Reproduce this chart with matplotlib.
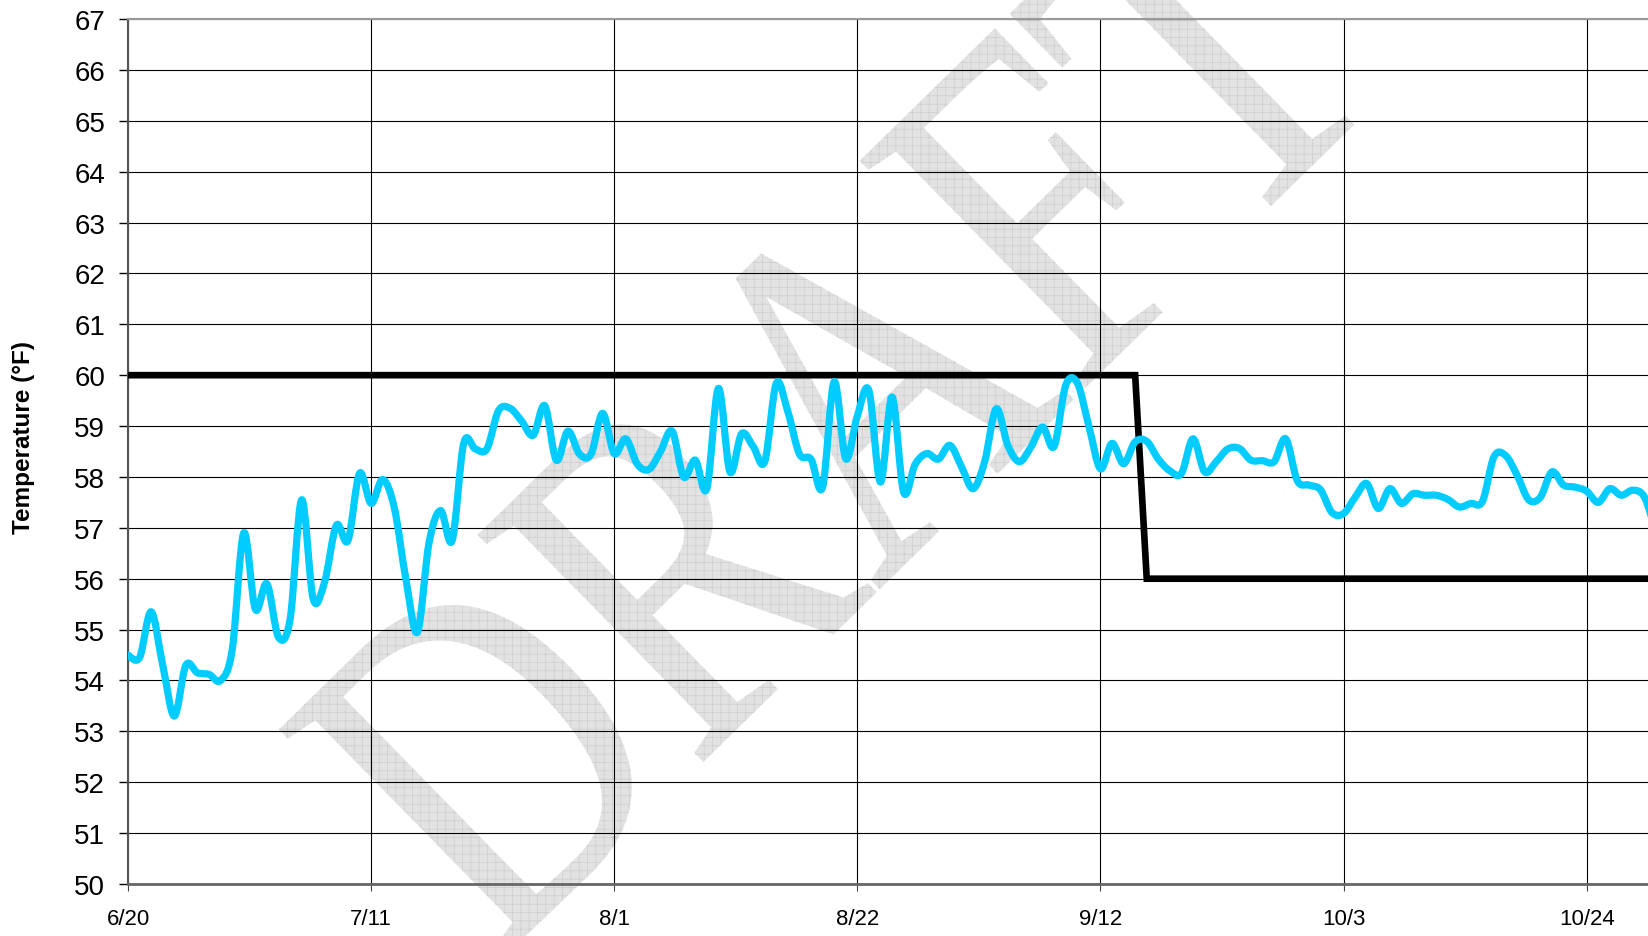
import numpy as np
import pandas as pd
import matplotlib
matplotlib.use("Agg")
import matplotlib.pyplot as plt
import matplotlib.dates as mdates
from matplotlib.path import Path
from matplotlib.patches import PathPatch
from matplotlib.textpath import TextPath
from matplotlib.font_manager import FontProperties
from matplotlib.transforms import Affine2D

plt.rcParams['font.family'] = ['Liberation Sans', 'DejaVu Sans']
plt.rcParams['hatch.linewidth'] = 0.5

# daily water temperature, starting 6/20
start_date = "2009-06-20"
temps = [
    54.5, 54.45, 55.35, 54.3, 53.3, 54.3, 54.15, 54.12, 54.0, 54.6,
    56.9, 55.4, 55.9, 54.85, 55.2, 57.55, 55.6, 55.95, 57.05, 56.75,
    58.07, 57.48, 57.95, 57.4, 56.0, 54.95, 56.7, 57.34, 56.75, 58.66,
    58.55, 58.55, 59.3, 59.35, 59.1, 58.82, 59.4, 58.33, 58.9, 58.45,
    58.45, 59.25, 58.46, 58.75, 58.25, 58.15, 58.5, 58.9, 58.0, 58.33,
    57.77, 59.74, 58.1, 58.85, 58.6, 58.3, 59.84, 59.28, 58.45, 58.35,
    57.8, 59.87, 58.36, 59.2, 59.7, 57.9, 59.57, 57.7, 58.25, 58.46,
    58.35, 58.62, 58.2, 57.77, 58.3, 59.34, 58.62, 58.3, 58.59, 58.98,
    58.6, 59.8, 59.85, 59.0, 58.16, 58.66, 58.26, 58.69, 58.7, 58.35,
    58.12, 58.07, 58.75, 58.1, 58.3, 58.55, 58.56, 58.33, 58.32, 58.3,
    58.75, 57.93, 57.84, 57.75, 57.3, 57.28, 57.6, 57.87, 57.38, 57.77,
    57.48, 57.67, 57.64, 57.64, 57.56, 57.41, 57.48, 57.52, 58.4, 58.42,
    58.03, 57.55, 57.6, 58.1, 57.84, 57.8, 57.72, 57.5, 57.77, 57.64,
    57.74, 57.6, 56.9,
]

# temperature criterion (step change mid September)
limit_dates = ["2009-06-20", "2009-09-15", "2009-09-16", "2009-10-30"]
limit_vals = [60, 60, 56, 56]

tick_labels = ["6/20", "7/11", "8/1", "8/22", "9/12", "10/3", "10/24"]
y_ticks = list(range(50, 68))


# smooth line like excel does (bezier with catmull-rom tangents)
def smooth_path(x, y):
    verts = [(x[0], y[0])]
    codes = [Path.MOVETO]
    n = len(x)
    for i in range(n - 1):
        i0 = max(i - 1, 0)
        i3 = min(i + 2, n - 1)
        c1 = (x[i] + (x[i + 1] - x[i0]) / 6, y[i] + (y[i + 1] - y[i0]) / 6)
        c2 = (x[i + 1] - (x[i3] - x[i]) / 6, y[i + 1] - (y[i3] - y[i]) / 6)
        verts += [c1, c2, (x[i + 1], y[i + 1])]
        codes += [Path.CURVE4] * 3
    return Path(verts, codes)


dates = pd.date_range(start_date, periods=len(temps), freq="D")
xd = mdates.date2num(dates)
x0 = mdates.date2num(pd.Timestamp(start_date))

fig = plt.figure(figsize=(16.48, 9.37), dpi=100)
ax = fig.add_axes([128 / 1648, 1 - 885 / 937, 1 - 128 / 1648, 865 / 937])
ax.set_facecolor("none")

# DRAFT watermark behind the chart
fp = FontProperties(family="Liberation Serif")
tp = TextPath((0, 0), "DRAFT", size=385, prop=fp)
wm_tf = Affine2D().scale(1, 1.27).rotate_deg(44.4).translate(495, -30)
wm = PathPatch(tp, transform=wm_tf, facecolor="#e2e2e2", edgecolor="#cdcdcd",
               lw=0, hatch="++", zorder=-5)
fig.add_artist(wm)

ax.plot(mdates.date2num(pd.to_datetime(limit_dates)), limit_vals,
        color="black", lw=4.8, solid_joinstyle="miter", zorder=3)

line = PathPatch(smooth_path(xd, np.array(temps)), fill=False,
                 edgecolor="#00CCFF", lw=5.2, capstyle="round",
                 joinstyle="round", zorder=4)
ax.add_patch(line)

ax.set_xlim(x0, x0 + 131.3)
ax.set_ylim(50, 67)

tick_dates = mdates.date2num(pd.to_datetime(["2009/" + t for t in tick_labels]))
ax.set_xticks(tick_dates)
ax.set_xticklabels(tick_labels)
ax.set_yticks(y_ticks)

ax.grid(True, color="black", lw=0.8)
ax.set_axisbelow(True)

ax.tick_params(axis="y", direction="out", length=6.5, width=1,
               labelsize=20, pad=10)
ax.tick_params(axis="x", direction="out", length=5, width=0.8,
               color="#444444", labelsize=16, pad=12)

ax.spines["right"].set_visible(False)
ax.spines["top"].set_color("#999999")
ax.spines["top"].set_linewidth(1.5)
ax.spines["left"].set_color("#555555")
ax.spines["left"].set_linewidth(1.5)
ax.spines["bottom"].set_color("#666666")
ax.spines["bottom"].set_linewidth(2)

fig.text(24 / 1648, 1 - 438 / 937, "Temperature (°F)", rotation=90,
         ha="center", va="center", fontsize=17.5, fontweight="bold")

fig.savefig("out.png", dpi=100)
